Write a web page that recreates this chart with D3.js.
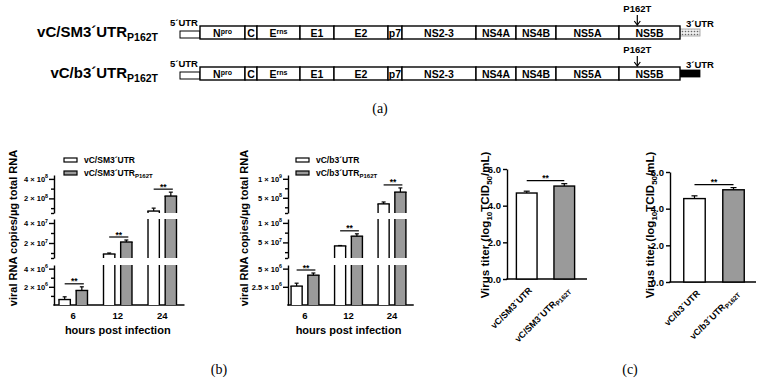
<!DOCTYPE html>
<html>
<head>
<meta charset="utf-8">
<script src="https://cdn.jsdelivr.net/npm/d3@7"></script>
<style>
  body { margin: 0; background: #fff; }
  text { font-family: "Liberation Sans", Arial, sans-serif; font-weight: bold; fill: #000; }
  .panel-tag { font-family: "Liberation Serif", "Times New Roman", serif; font-weight: normal; font-size: 14px; }
</style>
</head>
<body>
<svg id="fig" width="761" height="382"></svg>
<script>
/*---------------------------------------------------------------
----- DATA
---------------------------------------------------------------*/

// Panel (a): genome map of the two constructs
const construct_names = ["vC/SM3´UTR", "vC/b3´UTR"];
const construct_subscript = "P162T";
const gene_base = ["N", "C", "E", "E1", "E2", "p7", "NS2-3", "NS4A", "NS4B", "NS5A", "NS5B"];
const gene_sup = ["pro", "", "rns", "", "", "", "", "", "", "", ""];
const gene_lengths = [45, 12, 43, 34, 54, 14, 74, 40, 40, 63, 61];
const mutation_gene = "NS5B";
const mutation_label = "P162T";

// Panel (b): viral RNA copies per µg total RNA
const time_points = ["6", "12", "24"];
const sm_wt = [0.6e6, 9e6, 7e7];
const sm_wt_err = [0.3e6, 1e6, 3e7];
const sm_mut = [1.6e6, 2.1e7, 2.24e8];
const sm_mut_err = [0.4e6, 2e6, 4e7];
const b3_wt = [2.6e6, 4.1e7, 3.4e8];
const b3_wt_err = [0.4e6, 1e6, 5e7];
const b3_mut = [4.1e6, 6.6e7, 6.5e8];
const b3_mut_err = [0.3e6, 6e6, 1.1e8];

// Broken y-axis segments and their ticks
const sm_seg_domains = [[0, 4.4e6], [5e6, 4.4e7], [5e7, 4.4e8]];
const sm_major_ticks = [[2e6, 4e6], [2e7, 4e7], [2e8, 4e8]];
const sm_minor_ticks = [[1e6, 3e6], [1e7, 3e7], [1e8, 3e8]];
const b3_seg_domains = [[0, 5.5e6], [1e7, 1.1e8], [1e8, 1.1e9]];
const b3_major_ticks = [[2.5e6, 5e6], [5e7, 1e8], [5e8, 1e9]];
const b3_minor_ticks = [[], [2.5e7, 7.5e7], [2.5e8, 7.5e8]];

// Panel (c): virus titer (log10 TCID50/mL)
const titer_sm = [4.69, 5.07];
const titer_sm_err = [0.1, 0.13];
const titer_b3 = [4.55, 5.03];
const titer_b3_err = [0.15, 0.12];
const titer_ticks = [0, 2, 4, 6];

/*---------------------------------------------------------------
----- SETUP
---------------------------------------------------------------*/
const svg = d3.select("#fig");
svg.append("rect").attr("width", 761).attr("height", 382).attr("fill", "#fff");

const GRAY = "#9a9a9a";
const STROKE = 1.4;

// Helper: write a label with a subscript part
function add_sub(text_sel, main, sub, sub_size, shift) {
    text_sel.append("tspan").text(main);
    text_sel.append("tspan").attr("font-size", sub_size).attr("dy", shift).text(sub);
}

// Helper: format "m × 10^e" tick labels with a superscript exponent
function sci_label(sel, v, size) {
    const e = Math.floor(Math.log10(v) + 1e-9);
    const m = +(v / Math.pow(10, e)).toFixed(2);
    sel.append("tspan").text(`${m} × 10`);
    sel.append("tspan").attr("font-size", size * 0.7).attr("dy", -size * 0.45).text(e);
}

/*---------------------------------------------------------------
----- PANEL (a): GENOME MAPS
---------------------------------------------------------------*/
const total_len = d3.sum(gene_lengths);
const gene_starts = d3.cumsum([0].concat(gene_lengths)).slice(0, gene_lengths.length);
const genome_x = d3.scaleLinear().domain([0, total_len]).range([200, 680]);
const row_y = d3.scalePoint().domain(construct_names).range([26, 67]);
const box_h = 13;

// Dotted pattern for the SM 3'UTR
const defs = svg.append("defs");
const pat = defs.append("pattern").attr("id", "dots").attr("width", 3).attr("height", 3)
    .attr("patternUnits", "userSpaceOnUse");
pat.append("rect").attr("width", 3).attr("height", 3).attr("fill", "#eeeeee");
pat.append("circle").attr("cx", 1.5).attr("cy", 1.5).attr("r", 0.8).attr("fill", "#666");

construct_names.forEach((name, ri) => {
    const y = row_y(name);
    const g = svg.append("g");

    // Construct name
    const t = g.append("text").attr("x", 158).attr("y", y + 11).attr("text-anchor", "end")
        .attr("font-size", 15);
    add_sub(t, name, construct_subscript, 10.5, 4);

    // 5'UTR
    g.append("rect").attr("x", genome_x(0) - 20).attr("y", y + 5).attr("width", 20).attr("height", 7)
        .attr("fill", "#fff").attr("stroke", "#000").attr("stroke-width", 1);
    g.append("text").attr("x", genome_x(0) - 30).attr("y", y).attr("font-size", 9.5).text("5´UTR");

    // 3'UTR
    g.append("rect").attr("x", genome_x(total_len)).attr("y", y + 3).attr("width", 20).attr("height", 7)
        .attr("fill", ri === 0 ? "url(#dots)" : "#000").attr("stroke", ri === 0 ? "#999" : "#000")
        .attr("stroke-width", 0.8);
    g.append("text").attr("x", genome_x(total_len) + 6).attr("y", y + 1).attr("font-size", 9.5).text("3´UTR");

    // Gene boxes
    g.selectAll("rect.gene")
        .data(gene_base)
        .enter()
        .append("rect")
        .attr("class", "gene")
        .attr("x", (d, i) => genome_x(gene_starts[i]))
        .attr("y", y)
        .attr("width", (d, i) => genome_x(gene_lengths[i]) - genome_x(0))
        .attr("height", box_h)
        .attr("fill", "#fff")
        .attr("stroke", "#000")
        .attr("stroke-width", STROKE);

    g.selectAll("text.gene")
        .data(gene_base)
        .enter()
        .append("text")
        .attr("class", "gene")
        .attr("x", (d, i) => genome_x(gene_starts[i] + gene_lengths[i] / 2))
        .attr("y", y + 10.5)
        .attr("text-anchor", "middle")
        .attr("font-size", 10.5)
        .each(function (d, i) {
            const sel = d3.select(this);
            sel.append("tspan").text(d);
            if (gene_sup[i]) sel.append("tspan").attr("font-size", 7).attr("dy", -3).text(gene_sup[i]);
        });

    // Mutation arrow
    const mi = gene_base.indexOf(mutation_gene);
    const mx = genome_x(gene_starts[mi] + gene_lengths[mi] * 0.3);
    g.append("text").attr("x", mx).attr("y", y - 14).attr("text-anchor", "middle").attr("font-size", 9.5)
        .text(mutation_label);
    g.append("line").attr("x1", mx).attr("x2", mx).attr("y1", y - 11).attr("y2", y - 2)
        .attr("stroke", "#000").attr("stroke-width", 1.2);
    g.append("path").attr("d", `M${mx - 3},${y - 5}L${mx},${y - 1}L${mx + 3},${y - 5}`)
        .attr("fill", "none").attr("stroke", "#000").attr("stroke-width", 1.2);
});

svg.append("text").attr("class", "panel-tag").attr("x", 380).attr("y", 113).attr("text-anchor", "middle").text("(a)");

/*---------------------------------------------------------------
----- PANEL (b): BROKEN-AXIS BAR CHARTS
---------------------------------------------------------------*/
function broken_chart(opt) {
    const g = svg.append("g");
    const seg_ranges = [[305, 265], [258, 219], [213, 175]];
    const segs = opt.domains.map((dom, k) => ({
        domain: dom,
        scale: d3.scaleLinear().domain(dom).range(seg_ranges[k]),
        major: opt.major[k],
        minor: opt.minor[k]
    }));

    const x_group = d3.scaleBand().domain(time_points).range(opt.x_range);
    const bw = x_group.bandwidth();
    const x_sub = d3.scaleBand().domain([0, 1]).range([bw * 0.18, bw * 0.82]).paddingInner(0.34);

    // Y-axis segments
    segs.forEach((s, k) => {
        const ticks = s.major.concat(s.minor).concat(k > 0 ? [s.domain[0]] : []);
        const ax = g.append("g")
            .attr("transform", `translate(${opt.axis_x},0)`)
            .call(d3.axisLeft(s.scale).tickValues(ticks).tickSizeOuter(0).tickFormat(""));
        ax.select(".domain").attr("stroke-width", STROKE);
        ax.selectAll(".tick line")
            .attr("stroke-width", STROKE)
            .attr("x2", d => s.major.includes(d) ? -5 : -3);
        ax.selectAll(".tick")
            .filter(d => s.major.includes(d))
            .append("text")
            .attr("x", -6).attr("dy", "0.32em")
            .attr("text-anchor", "end")
            .attr("font-size", 7.5)
            .attr("fill", "#000")
            .each(function (d) { sci_label(d3.select(this), d, 7.5); });
    });

    // X-axis
    g.append("line").attr("x1", opt.axis_x - 0.7).attr("x2", opt.x_range[1])
        .attr("y1", seg_ranges[0][0]).attr("y2", seg_ranges[0][0])
        .attr("stroke", "#000").attr("stroke-width", STROKE);

    g.selectAll("text.xt")
        .data(time_points)
        .enter()
        .append("text")
        .attr("class", "xt")
        .attr("x", d => x_group(d) + bw / 2)
        .attr("y", 319)
        .attr("text-anchor", "middle")
        .attr("font-size", 9.5)
        .text(d => d);

    g.append("text")
        .attr("x", (x_group(time_points[0]) + x_group(time_points[2]) + bw) / 2)
        .attr("y", 334).attr("text-anchor", "middle").attr("font-size", 11)
        .text("hours post infection");

    // Bars (broken across the segments)
    const series = [
        { vals: opt.wt, errs: opt.wt_err, fill: "#fff" },
        { vals: opt.mut, errs: opt.mut_err, fill: GRAY }
    ];
    series.forEach((se, si) => {
        se.vals.forEach((v, i) => {
            const x = x_group(time_points[i]) + x_sub(si);
            const w = x_sub.bandwidth();
            segs.forEach((s, k) => {
                if (k > 0 && v <= s.domain[0]) return;
                const top = Math.min(v, s.domain[1]);
                const yb = s.scale(s.domain[0]), yt = s.scale(top);
                g.append("rect").attr("x", x).attr("y", yt).attr("width", w).attr("height", yb - yt)
                    .attr("fill", se.fill);
                g.append("line").attr("x1", x).attr("x2", x).attr("y1", yb).attr("y2", yt)
                    .attr("stroke", "#000").attr("stroke-width", STROKE);
                g.append("line").attr("x1", x + w).attr("x2", x + w).attr("y1", yb).attr("y2", yt)
                    .attr("stroke", "#000").attr("stroke-width", STROKE);
                if (v <= s.domain[1]) {
                    g.append("line").attr("x1", x - 0.7).attr("x2", x + w + 0.7).attr("y1", yt).attr("y2", yt)
                        .attr("stroke", "#000").attr("stroke-width", STROKE);
                    const ye = s.scale(Math.min(v + se.errs[i], s.domain[1]));
                    const cx = x + w / 2;
                    g.append("line").attr("x1", cx).attr("x2", cx).attr("y1", yt).attr("y2", ye)
                        .attr("stroke", "#000").attr("stroke-width", 1.2);
                    g.append("line").attr("x1", cx - 2).attr("x2", cx + 2).attr("y1", ye).attr("y2", ye)
                        .attr("stroke", "#000").attr("stroke-width", 1.2);
                }
            });
        });
    });

    // Significance markers
    time_points.forEach((t, i) => {
        const top = opt.mut[i] + opt.mut_err[i];
        const s = segs.find(sg => top <= sg.domain[1]) || segs[segs.length - 1];
        const y = s.scale(top) - 3;
        const x1 = x_group(t) + x_sub(0) + x_sub.bandwidth() / 2;
        const x2 = x_group(t) + x_sub(1) + x_sub.bandwidth() / 2 + 2;
        g.append("line").attr("x1", x1).attr("x2", x2).attr("y1", y).attr("y2", y)
            .attr("stroke", "#000").attr("stroke-width", 1.2);
        g.append("text").attr("x", (x1 + x2) / 2).attr("y", y + 0.5).attr("text-anchor", "middle")
            .attr("font-size", 8.5).text("**");
    });

    // Legend
    const legend_names = [opt.name, opt.name];
    legend_names.forEach((n, li) => {
        const ly = 160 + li * 13;
        g.append("rect").attr("x", opt.legend_x).attr("y", ly - 2).attr("width", 13).attr("height", 4)
            .attr("fill", li === 0 ? "#fff" : GRAY).attr("stroke", "#000").attr("stroke-width", 1.2);
        const t = g.append("text").attr("x", opt.legend_x + 20).attr("y", ly + 3).attr("font-size", 8.5);
        if (li === 0) t.text(n);
        else add_sub(t, n, construct_subscript, 6, 2);
    });

    // Y-axis title
    g.append("text")
        .attr("transform", `translate(${opt.title_x},228) rotate(-90)`)
        .attr("text-anchor", "middle").attr("font-size", 11)
        .text("viral RNA copies/µg total RNA");
}

broken_chart({
    name: construct_names[0], axis_x: 54, x_range: [51, 184.5], legend_x: 64, title_x: 17,
    domains: sm_seg_domains, major: sm_major_ticks, minor: sm_minor_ticks,
    wt: sm_wt, wt_err: sm_wt_err, mut: sm_mut, mut_err: sm_mut_err
});
broken_chart({
    name: construct_names[1], axis_x: 288, x_range: [283.25, 413.75], legend_x: 296, title_x: 248,
    domains: b3_seg_domains, major: b3_major_ticks, minor: b3_minor_ticks,
    wt: b3_wt, wt_err: b3_wt_err, mut: b3_mut, mut_err: b3_mut_err
});

svg.append("text").attr("class", "panel-tag").attr("x", 219).attr("y", 374).attr("text-anchor", "middle").text("(b)");

/*---------------------------------------------------------------
----- PANEL (c): VIRUS TITER BAR CHARTS
---------------------------------------------------------------*/
function titer_chart(opt) {
    const g = svg.append("g");
    const y = d3.scaleLinear().domain([0, 6]).range([opt.y0, opt.y0 - 110]);
    const x = d3.scaleBand().domain([0, 1]).range(opt.x_range).paddingInner(0.45).paddingOuter(0.25);

    const ay = g.append("g").attr("transform", `translate(${opt.axis_x},0)`)
        .call(d3.axisLeft(y).tickValues(titer_ticks).tickSize(4).tickSizeOuter(0));
    ay.select(".domain").attr("stroke-width", STROKE);
    ay.selectAll(".tick line").attr("stroke-width", STROKE);
    ay.selectAll(".tick text").attr("font-size", 9.5).attr("font-family", null).attr("x", -6);

    g.append("line").attr("x1", opt.axis_x - 0.7).attr("x2", opt.axis_end).attr("y1", opt.y0).attr("y2", opt.y0)
        .attr("stroke", "#000").attr("stroke-width", STROKE);

    g.selectAll("rect.bar")
        .data(opt.vals)
        .enter()
        .append("rect")
        .attr("class", "bar")
        .attr("x", (d, i) => x(i))
        .attr("y", d => y(d))
        .attr("width", x.bandwidth())
        .attr("height", d => opt.y0 - y(d))
        .attr("fill", (d, i) => i === 0 ? "#fff" : GRAY)
        .attr("stroke", "#000")
        .attr("stroke-width", STROKE);

    opt.vals.forEach((v, i) => {
        const cx = x(i) + x.bandwidth() / 2;
        const ye = y(v + opt.errs[i]);
        g.append("line").attr("x1", cx).attr("x2", cx).attr("y1", y(v)).attr("y2", ye)
            .attr("stroke", "#000").attr("stroke-width", 1.2);
        g.append("line").attr("x1", cx - 3).attr("x2", cx + 3).attr("y1", ye).attr("y2", ye)
            .attr("stroke", "#000").attr("stroke-width", 1.2);

        // Rotated category label
        const t = g.append("text")
            .attr("transform", `translate(${cx + 6},${opt.y0 + 12}) rotate(-45)`)
            .attr("text-anchor", "end").attr("font-size", 9);
        if (i === 0) t.text(opt.name);
        else add_sub(t, opt.name, construct_subscript, 6.5, 2);
    });

    // Significance marker
    const top = d3.max(opt.vals.map((v, i) => v + opt.errs[i]));
    const sy = y(top) - 3;
    const x1 = x(0) + x.bandwidth() / 2, x2 = x(1) + x.bandwidth() / 2;
    g.append("line").attr("x1", x1).attr("x2", x2).attr("y1", sy).attr("y2", sy)
        .attr("stroke", "#000").attr("stroke-width", 1.2);
    g.append("text").attr("x", (x1 + x2) / 2).attr("y", sy + 0.5).attr("text-anchor", "middle")
        .attr("font-size", 8.5).text("**");

    // Y-axis title with subscripts
    const yt = g.append("text")
        .attr("transform", `translate(${opt.title_x},225) rotate(-90)`)
        .attr("text-anchor", "middle").attr("font-size", 11.5);
    yt.append("tspan").text("Virus titer (log");
    yt.append("tspan").attr("font-size", 8).attr("dy", 3).text("10");
    yt.append("tspan").attr("dy", -3).text("TCID");
    yt.append("tspan").attr("font-size", 8).attr("dy", 3).text("50");
    yt.append("tspan").attr("dy", -3).text("/mL)");
}

titer_chart({
    name: construct_names[0], vals: titer_sm, errs: titer_sm_err,
    axis_x: 507, axis_end: 587, x_range: [507, 584], y0: 279, title_x: 489
});
titer_chart({
    name: construct_names[1], vals: titer_b3, errs: titer_b3_err,
    axis_x: 670, axis_end: 756, x_range: [674, 754], y0: 282, title_x: 654
});

svg.append("text").attr("class", "panel-tag").attr("x", 630).attr("y", 374).attr("text-anchor", "middle").text("(c)");
</script>
</body>
</html>
